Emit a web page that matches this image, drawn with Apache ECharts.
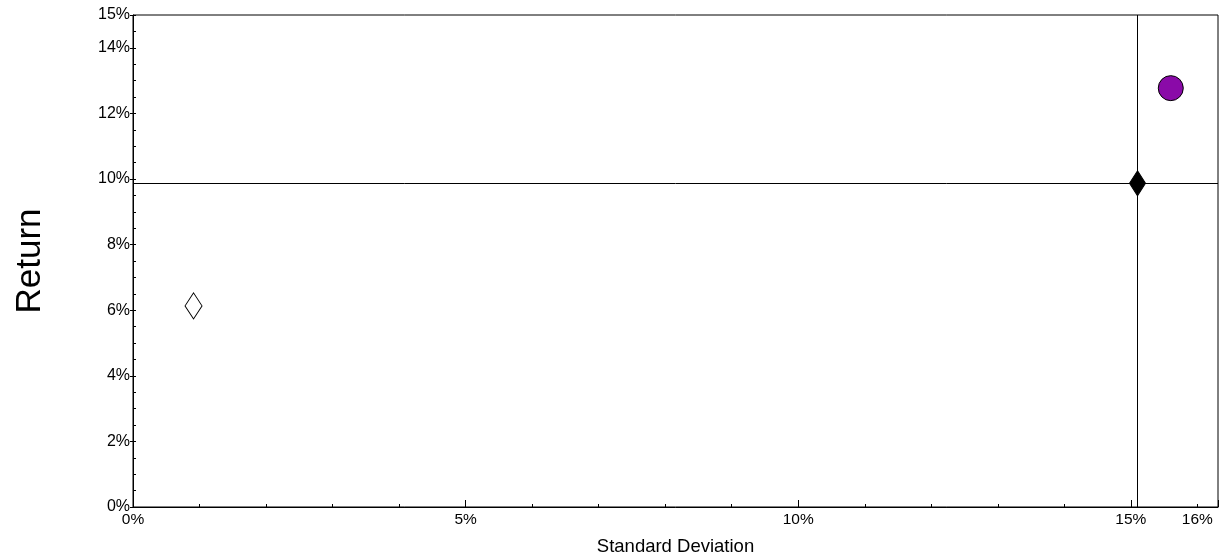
<!DOCTYPE html>
<html>
<head>
<meta charset="utf-8">
<script src="https://cdn.jsdelivr.net/npm/echarts@6/dist/echarts.min.js"></script>
<style>
  html, body { margin: 0; padding: 0; background: #fff; }
  #riskChart { width: 1222px; height: 553px; }
</style>
</head>
<body>
<div id="riskChart"></div>
<script>
    // 风险/收益散点图
    var riskChart = echarts.init(document.getElementById('riskChart'));

    // data: [标准差 %, 收益 %]
    var whitePoint = [0.91, 6.13];    // 空心菱形
    var blackPoint = [15.10, 9.87];   // 实心菱形（参考线交点）
    var purplePoint = [15.60, 12.77]; // 紫色圆点

    var xLabels = [0, 5, 10, 15, 16];        // 横轴显示的刻度标签
    var yLabels = [0, 2, 4, 6, 8, 10, 12, 14, 15];

    var xMax = 16.31;
    var yMax = 15;

    var txt = '#000';
    var font = 'Liberation Sans, Arial, sans-serif';

    riskChart.setOption({
        animation: false,
        textStyle: { fontFamily: font },
        grid: {
            left: 133, right: 4, top: 15, bottom: 46,
            outerBoundsMode: 'none', containLabel: false,
            show: true, borderColor: '#000', borderWidth: 1
        },
        xAxis: [
            {   /*小刻度 + 标签*/
                type: 'value', position: 'bottom', min: 0, max: xMax, interval: 1,
                name: 'Standard Deviation', nameLocation: 'middle', nameGap: 30,
                nameTextStyle: { color: txt, fontSize: 18.5, fontFamily: font },
                axisLine: { lineStyle: { color: '#000', width: 1 } },
                axisTick: { inside: true, length: 3, lineStyle: { color: '#000' } },
                axisLabel: {
                    color: txt, fontSize: 15.5, margin: 5, showMaxLabel: false,
                    formatter: function (v) {
                        return xLabels.indexOf(v) >= 0 ? v + '%' : '';
                    }
                },
                splitLine: { show: false }
            },
            {   /*5% 的长刻度*/
                type: 'value', position: 'bottom', min: 0, max: xMax, interval: 5,
                axisLine: { show: false },
                axisTick: { inside: true, length: 7, lineStyle: { color: '#000' } },
                axisLabel: { show: false },
                splitLine: { show: false }
            }
        ],
        yAxis: [
            {   /*0.5% 小刻度，朝内*/
                type: 'value', position: 'left', min: 0, max: yMax, interval: 0.5,
                name: 'Return', nameLocation: 'middle', nameGap: 85, nameRotate: 90,
                nameTextStyle: { color: txt, fontSize: 35, fontFamily: font },
                axisLine: { show: true, lineStyle: { color: '#000', width: 1 } },
                axisTick: { inside: true, length: 3, lineStyle: { color: '#000' } },
                axisLabel: { show: false },
                splitLine: { show: false }
            },
            {   /*带标签的主刻度，朝外*/
                type: 'value', position: 'left', min: 0, max: yMax, interval: 2,
                axisLine: { show: false },
                axisTick: { show: true, length: 3, lineStyle: { color: '#000' } },
                axisLabel: {
                    color: txt, fontSize: 16, margin: 3, showMaxLabel: true,
                    formatter: function (v) {
                        return yLabels.indexOf(v) >= 0 ? v + '%' : '';
                    }
                },
                splitLine: { show: false }
            }
        ],
        series: [
            {
                name: 'white', type: 'scatter', symbol: 'diamond', symbolSize: [17, 26],
                itemStyle: { color: '#fff', borderColor: '#000', borderWidth: 1, opacity: 1 },
                data: [whitePoint]
            },
            {
                name: 'benchmark', type: 'scatter', symbol: 'diamond', symbolSize: [16, 25],
                itemStyle: { color: '#000', borderColor: '#000', borderWidth: 1, opacity: 1 },
                data: [blackPoint],
                z: 3,
                markLine: {
                    silent: true, symbol: 'none', label: { show: false },
                    lineStyle: { color: '#000', width: 1, type: 'solid' },
                    data: [
                        { xAxis: blackPoint[0] },
                        { yAxis: blackPoint[1] }
                    ]
                }
            },
            {
                name: 'purple', type: 'scatter', symbol: 'circle', symbolSize: 25,
                itemStyle: { color: '#8a0aa8', borderColor: '#000', borderWidth: 1, opacity: 1 },
                data: [purplePoint]
            }
        ]
    });
</script>
</body>
</html>
